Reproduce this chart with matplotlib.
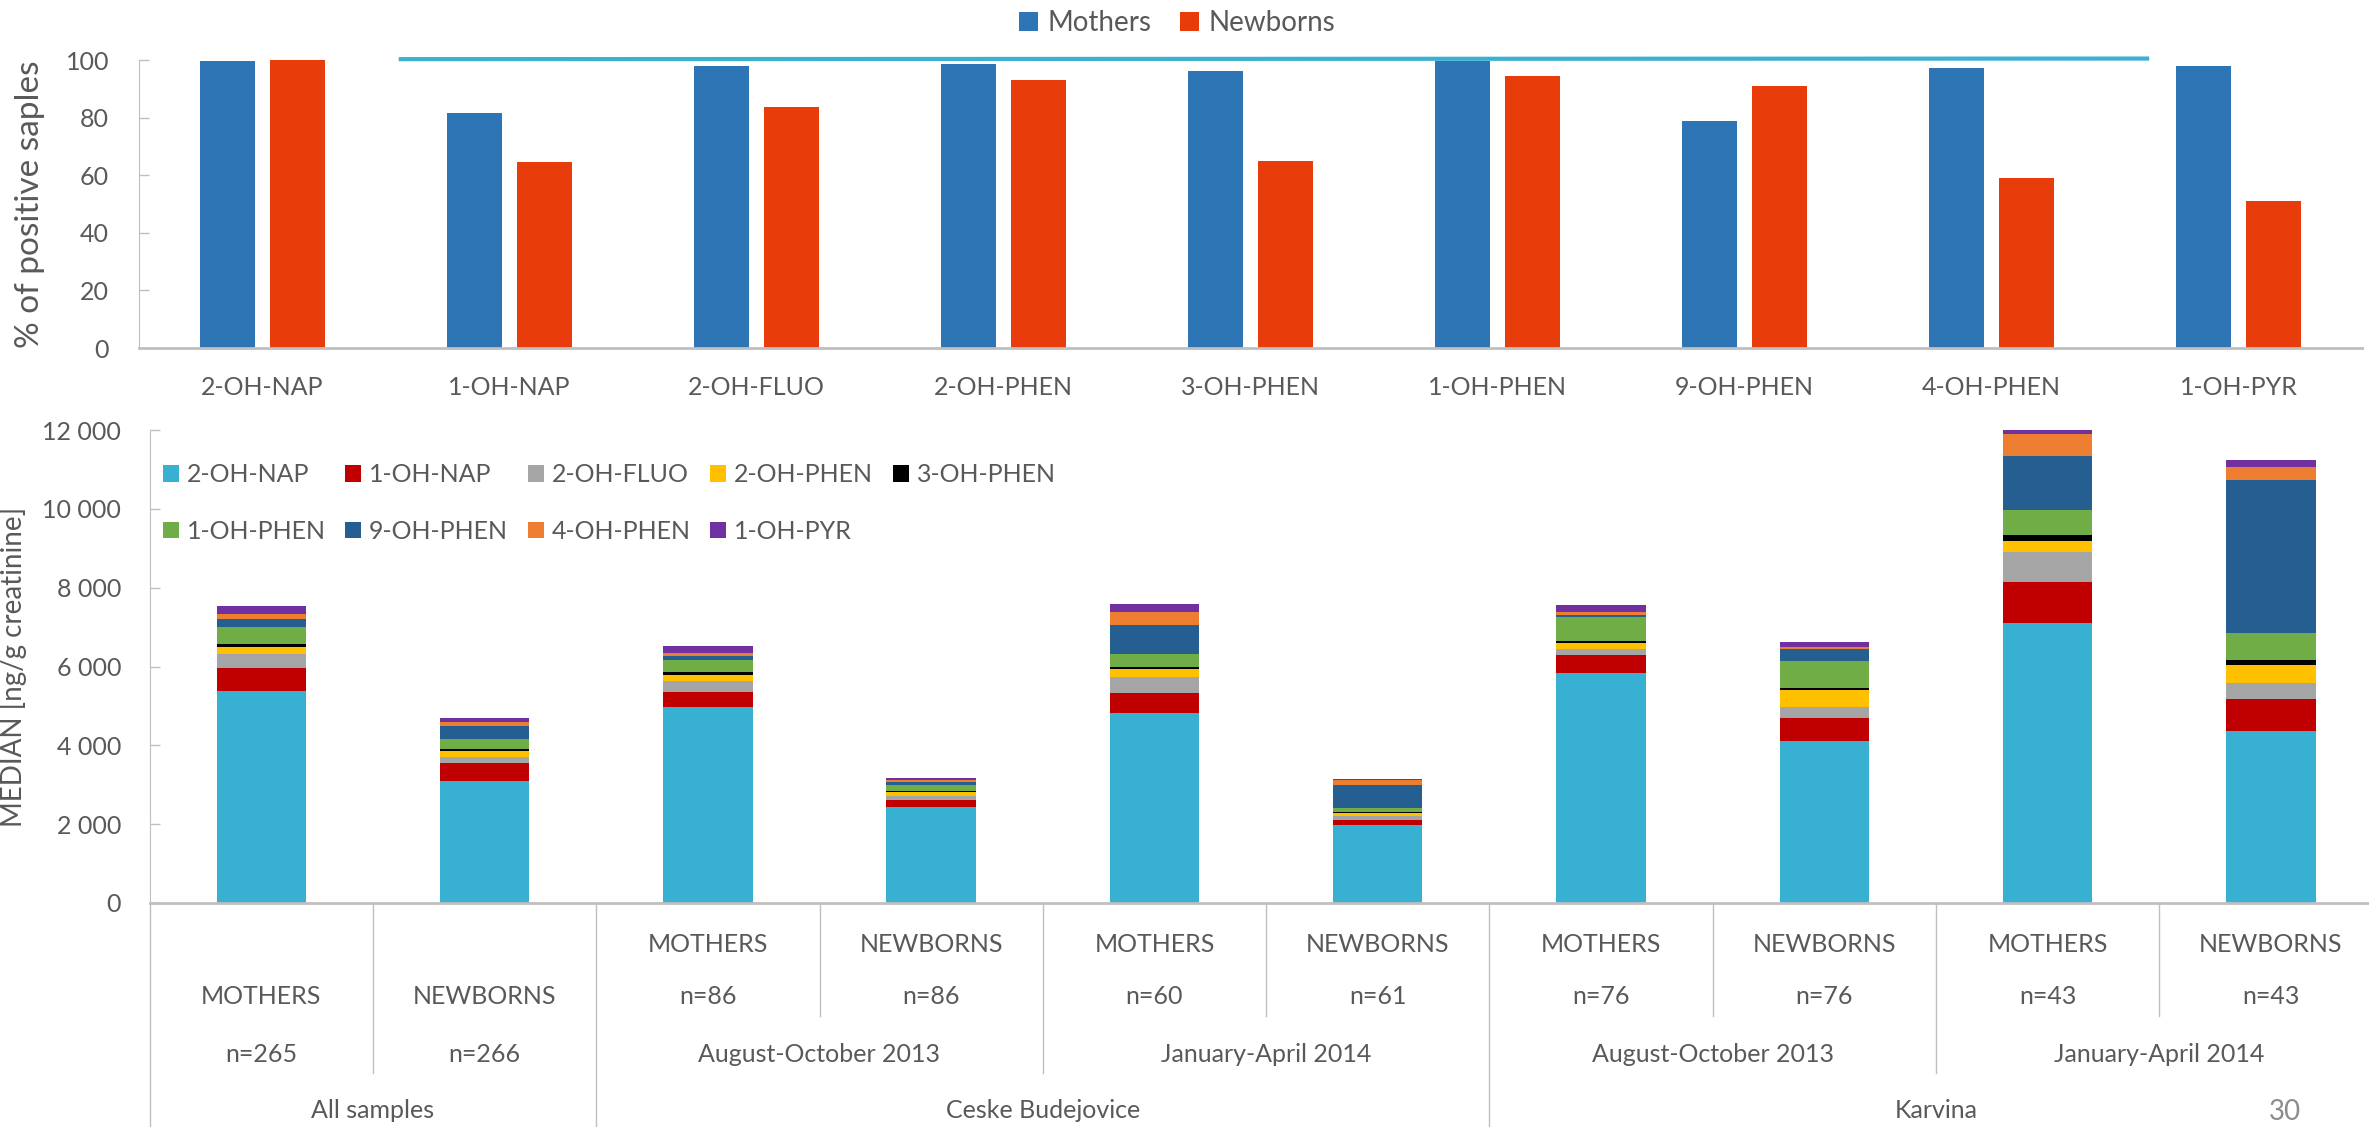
import numpy as np
import matplotlib.pyplot as plt
from matplotlib.patches import Patch

plt.rcParams['font.family'] = ['Lato', 'DejaVu Sans']

# --- top chart: % of positive samples ---
compounds = ["2-OH-NAP", "1-OH-NAP", "2-OH-FLUO", "2-OH-PHEN", "3-OH-PHEN",
             "1-OH-PHEN", "9-OH-PHEN", "4-OH-PHEN", "1-OH-PYR"]
pct_mothers = [99.7, 81.5, 98.0, 98.6, 96.2, 99.8, 78.8, 97.2, 97.9]
pct_newborns = [100.0, 64.5, 83.6, 93.1, 64.8, 94.4, 90.9, 58.9, 50.9]

# --- bottom chart: medians [ng/g creatinine], one list per metabolite ---
subjects = ["MOTHERS", "NEWBORNS"] * 5
n_values = ["n=265", "n=266", "n=86", "n=86", "n=60", "n=61", "n=76", "n=76", "n=43", "n=43"]
periods = ["August-October 2013", "January-April 2014", "August-October 2013", "January-April 2014"]
sites = ["All samples", "Ceske Budejovice", "Karvina"]

med_2oh_nap = [5390, 3100, 4980, 2430, 4830, 1980, 5840, 4120, 7100, 4360]
med_1oh_nap = [560, 440, 380, 185, 500, 135, 455, 585, 1035, 820]
med_2oh_fluo = [355, 170, 280, 110, 415, 100, 150, 260, 770, 390]
med_2oh_phen = [200, 150, 150, 100, 185, 75, 150, 430, 285, 475]
med_3oh_phen = [75, 50, 60, 25, 65, 25, 45, 70, 150, 120]
med_1oh_phen = [425, 245, 315, 145, 330, 100, 615, 675, 625, 695]
med_9oh_phen = [210, 345, 110, 75, 725, 585, 40, 305, 1380, 3875]
med_4oh_phen = [110, 100, 70, 50, 330, 110, 100, 50, 560, 330]
med_1oh_pyr = [210, 100, 180, 50, 205, 35, 170, 135, 100, 185]

medians = [med_2oh_nap, med_1oh_nap, med_2oh_fluo, med_2oh_phen, med_3oh_phen,
           med_1oh_phen, med_9oh_phen, med_4oh_phen, med_1oh_pyr]
stack_colors = ["#38B0D1", "#C00000", "#A5A5A5", "#FFC000", "#000000",
                "#70AD47", "#255E91", "#ED7D31", "#7030A0"]

txt = "#595959"
grid_gray = "#BFBFBF"

W, H = 2369, 1127
fig = plt.figure(figsize=(W / 100, H / 100), dpi=100)

# ---------------- top axes ----------------
ax1 = fig.add_axes([139 / W, 1 - 348 / H, 2223 / W, 288 / H])
x1 = np.arange(len(compounds))
b_m = ax1.bar(x1 - 0.142, pct_mothers, width=0.223, color="#2E75B6", label="Mothers")
b_n = ax1.bar(x1 + 0.142, pct_newborns, width=0.223, color="#E83C0A", label="Newborns")
ax1.set_xlim(-0.5, len(compounds) - 0.5)
ax1.set_ylim(0, 100)
ax1.set_yticks(range(0, 101, 20))
ax1.set_xticks(x1)
ax1.set_xticklabels(compounds)
ax1.tick_params(axis="y", direction="in", length=7, width=1, color=grid_gray,
                labelcolor=txt, labelsize=18, pad=21.5)
ax1.tick_params(axis="x", length=0, labelcolor=txt, labelsize=18, pad=20)
for s in ["top", "right"]:
    ax1.spines[s].set_visible(False)
ax1.spines["left"].set_color(grid_gray)
ax1.spines["bottom"].set_color(grid_gray)
ax1.spines["bottom"].set_linewidth(2)
ax1.set_ylabel("% of positive saples", fontsize=24, color=txt)
ax1.yaxis.set_label_coords(-0.0423, 0.5)
# highlight line over the groups
ax1.plot([0.56, 7.63], [100.3, 100.5], color="#3BB0D0", lw=3, clip_on=False)
ax1.legend(handles=[b_m, b_n], loc="center", bbox_to_anchor=(0.467, 1.128), ncol=2,
           frameon=False, fontsize=20, labelcolor=txt, handlelength=0.7, handleheight=0.7,
           handletextpad=0.35, columnspacing=1.0, borderpad=0)

# ---------------- bottom axes ----------------
ax2 = fig.add_axes([149.6 / W, 1 - 903 / H, 2233 / W, 473 / H])
x2 = np.arange(len(subjects))
bottom = np.zeros(len(subjects))
handles = []
for name, vals, col in zip(compounds, medians, stack_colors):
    h = ax2.bar(x2, vals, width=0.40, bottom=bottom, color=col, label=name)
    handles.append(h)
    bottom += np.array(vals)
ax2.set_xlim(-0.5, len(subjects) - 0.5)
ax2.set_ylim(0, 12000)
ax2.set_yticks(range(0, 12001, 2000))
ax2.set_yticklabels([f"{v:,}".replace(",", " ") for v in range(0, 12001, 2000)])
ax2.set_xticks([])
ax2.tick_params(axis="y", direction="in", length=7, width=1, color=grid_gray,
                labelcolor=txt, labelsize=18, pad=20.5)
for s in ["top", "right"]:
    ax2.spines[s].set_visible(False)
ax2.spines["left"].set_color(grid_gray)
ax2.spines["bottom"].set_color(grid_gray)
ax2.spines["bottom"].set_linewidth(2)
ax2.set_ylabel("MEDIAN [ng/g creatinine]", fontsize=20, color=txt)
ax2.yaxis.set_label_coords(-0.0551, 0.5)

order = [0, 5, 1, 6, 2, 7, 3, 8, 4]
ax2.legend(handles=[handles[i] for i in order], loc="upper left",
           bbox_to_anchor=(0.006, 0.93), ncol=5, frameon=False, fontsize=18,
           labelcolor=txt, handlelength=0.64, handleheight=0.64, handletextpad=0.3,
           columnspacing=0.8, labelspacing=1.35, borderpad=0, borderaxespad=0)

# multi-level category axis
tr = ax2.get_xaxis_transform()
ax_h = 473.0
def yf(px):
    return -(px - 903) / ax_h

row1, row2, row3, row4 = yf(945), yf(997), yf(1055), yf(1110)
lvl1, lvl2, lvl3 = yf(1016), yf(1073), yf(1140)

for i, (subj, nv) in enumerate(zip(subjects, n_values)):
    if i < 2:
        ax2.text(i, row2, subj, transform=tr, ha="center", va="center", fontsize=18, color=txt)
        ax2.text(i, row3, nv, transform=tr, ha="center", va="center", fontsize=18, color=txt)
    else:
        ax2.text(i, row1, subj, transform=tr, ha="center", va="center", fontsize=18, color=txt)
        ax2.text(i, row2, nv, transform=tr, ha="center", va="center", fontsize=18, color=txt)

for j, per in enumerate(periods):
    ax2.text(2.5 + 2 * j, row3, per, transform=tr, ha="center", va="center", fontsize=18, color=txt)

for c, site in zip([0.5, 3.5, 7.5], sites):
    ax2.text(c, row4, site, transform=tr, ha="center", va="center", fontsize=18, color=txt)

divider_depth = {-0.5: lvl3, 0.5: lvl2, 1.5: lvl3, 2.5: lvl1, 3.5: lvl2, 4.5: lvl1,
                 5.5: lvl3, 6.5: lvl1, 7.5: lvl2, 8.5: lvl1}
for xd, yb in divider_depth.items():
    ax2.plot([xd, xd], [0, yb], transform=tr, color=grid_gray, lw=1, clip_on=False)

fig.text(2285 / W, 1 - 1112 / H, "30", ha="center", va="center", fontsize=20, color="#8C8C8C")

fig.savefig("out.png", dpi=100)
